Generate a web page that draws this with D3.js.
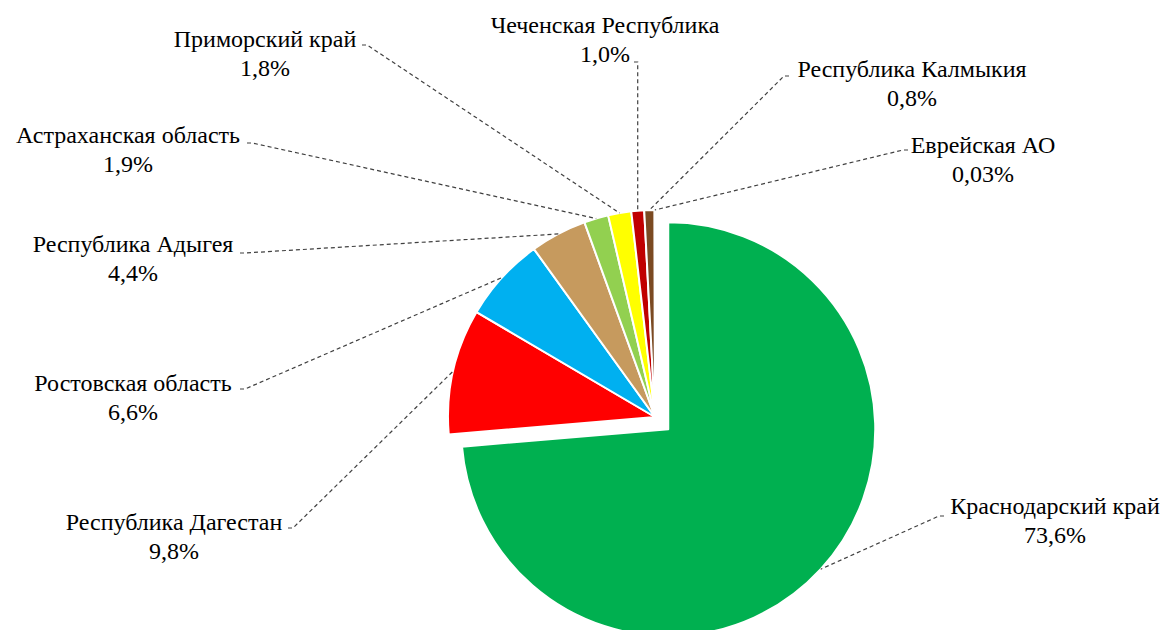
<!DOCTYPE html>
<html><head><meta charset="utf-8">
<script src="https://cdn.jsdelivr.net/npm/d3@7"></script>
</head><body>
<svg id="chart" width="1168" height="630"></svg>
<script>
// ---- data ----
const regions = ["Краснодарский край","Республика Дагестан","Ростовская область","Республика Адыгея","Астраханская область","Приморский край","Чеченская Республика","Республика Калмыкия","Еврейская АО"];
const shares = [73.6, 9.8, 6.6, 4.4, 1.9, 1.8, 1.0, 0.8, 0.03];
const shareLabels = ["73,6%","9,8%","6,6%","4,4%","1,9%","1,8%","1,0%","0,8%","0,03%"];
const colors = ["#00B050","#FF0000","#00B0F0","#C69A5E","#92D050","#FFFF00","#C00000","#7B4A22","#808080"];

// ---- layout (label placement) ----
const labelCX   = [1055, 174, 133, 133, 128, 265, 605, 912, 983];
const labelY1   = [514, 530, 391, 252, 143, 47, 33, 77, 153];
const anchorX   = [944, 288, 240, 240, 247, 362, 634, 789, 908];
const anchorY   = [516, 528, 389, 253, 143, 45, 62, 76, 150];
const explode   = [18, 0, 0, 0, 0, 0, 0, 0, 0];
const lineGap = 29;

document.body.style.margin = "0";
const cx = 655, cy = 417, R = 207;
const svg = d3.select("#chart");
const pie = d3.pie().sort(null).value(d => d).startAngle(0).endAngle(2*Math.PI);
const arcs = pie(shares);
const arc = d3.arc().innerRadius(0).outerRadius(R);

const g = svg.append("g").attr("transform", `translate(${cx},${cy})`);
function off(d, i) {
  const a = (d.startAngle + d.endAngle) / 2;
  return [explode[i] * Math.sin(a), -explode[i] * Math.cos(a)];
}
g.selectAll("path.slice").data(arcs).join("path")
  .attr("class", "slice")
  .attr("d", arc)
  .attr("transform", (d, i) => { const o = off(d, i); return `translate(${o[0]},${o[1]})`; })
  .attr("fill", (d, i) => colors[i])
  .attr("stroke", "#fff").attr("stroke-width", 2).attr("stroke-linejoin", "round");

// leader lines
svg.append("g").selectAll("path.leader").data(arcs).join("path")
  .attr("class", "leader")
  .attr("d", (d, i) => {
    const a = (d.startAngle + d.endAngle) / 2;
    const o = off(d, i);
    const ex = cx + o[0] + R * Math.sin(a), ey = cy + o[1] - R * Math.cos(a);
    const sx = anchorX[i], sy = anchorY[i];
    const dir = ex > sx ? 1 : -1;
    let mx = sx + dir * 5;
    if (Math.abs(ex - sx) < 12) mx = ex;
    return `M${sx},${sy}L${mx},${sy}L${ex},${ey}`;
  })
  .attr("fill", "none").attr("stroke", "#404040").attr("stroke-width", 1.2)
  .attr("stroke-dasharray", "4,3");

// labels (centred by measuring, no text-anchor)
regions.forEach((name, i) => {
  [name, shareLabels[i]].forEach((t, k) => {
    const f = "Liberation Serif";
    const txt = svg.append("text").attr("x", 0).attr("y", labelY1[i] + k * lineGap)
      .style("font-family", `"${f}"`).style("font-size", "24px").text(t);
    const w = txt.node().getComputedTextLength();
    txt.attr("x", labelCX[i] - w / 2);
  });
});
</script>
</body></html>
